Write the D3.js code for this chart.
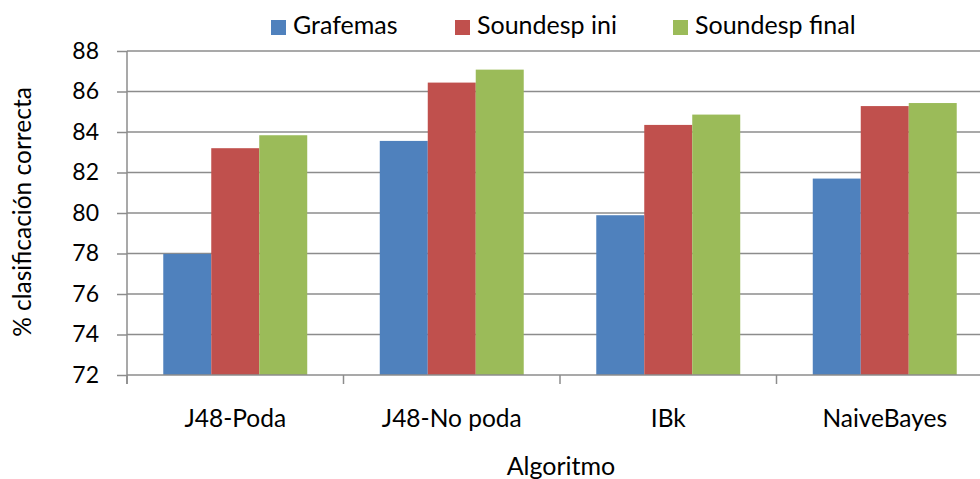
<!DOCTYPE html>
<html><head><meta charset="utf-8">
<script src="https://cdn.jsdelivr.net/npm/d3@7"></script>
<style>body{margin:0;background:#fff}svg{display:block}text{font-family:Lato,"Open Sans",sans-serif;fill:#000}</style>
</head><body><svg id="c" width="980" height="479"></svg>
<script>
const categories = ["J48-Poda", "J48-No poda", "IBk", "NaiveBayes"];
const seriesNames = ["Grafemas", "Soundesp ini", "Soundesp final"];
const grafemas = [77.98, 83.56, 79.89, 81.70];
const soundespIni = [83.20, 86.44, 84.35, 85.28];
const soundespFinal = [83.84, 87.08, 84.86, 85.43];
const yTicks = [72, 74, 76, 78, 80, 82, 84, 86, 88];
const colors = ["#4F81BD", "#C0504D", "#9BBB59"];
const seriesValues = [grafemas, soundespIni, soundespFinal];

(function () {
const svg = d3.select("#c");
const pL = 127, pR = 993, pT = 51, pB = 375;
const x = d3.scaleBand().domain(categories).range([pL, pR]).paddingInner(0.335).paddingOuter(0.1675);
const xs = d3.scaleBand().domain(seriesNames).range([0, x.bandwidth()]);
const y = d3.scaleLinear().domain([72, 88]).range([pB, pT]);

svg.append("g").selectAll("line").data(yTicks.slice(1)).join("line")
  .attr("x1", pL).attr("x2", 980).attr("y1", d => y(d)).attr("y2", d => y(d))
  .attr("stroke", "#8c8c8c").attr("stroke-width", 1.5);

const g = svg.append("g");
categories.forEach((c, i) => {
  seriesNames.forEach((s, j) => {
    g.append("rect").attr("x", x(c) + xs(s)).attr("y", y(seriesValues[j][i]))
      .attr("width", xs.bandwidth()).attr("height", y(72) - y(seriesValues[j][i]))
      .attr("fill", colors[j]);
  });
});

const ya = svg.append("g").attr("transform", `translate(${pL},0)`)
  .call(d3.axisLeft(y).tickValues(yTicks).tickSize(10).tickPadding(18).tickFormat(d3.format("d")));
ya.select(".domain").remove();
ya.selectAll(".tick line").attr("stroke", "#8c8c8c").attr("stroke-width", 1.5);
ya.selectAll(".tick text").attr("font-size", 23).attr("font-family", "Lato").attr("fill", "#000");
svg.append("line").attr("x1", pL).attr("x2", pL).attr("y1", pT).attr("y2", pB + 9)
  .attr("stroke", "#8c8c8c").attr("stroke-width", 1.5);

svg.append("line").attr("x1", pL).attr("x2", 980).attr("y1", pB).attr("y2", pB)
  .attr("stroke", "#8c8c8c").attr("stroke-width", 1.5);
const bounds = categories.map(c => x(c) - x.step() * x.paddingInner() / 2).concat([pR]);
svg.append("g").selectAll("line").data(bounds).join("line")
  .attr("x1", d => d).attr("x2", d => d).attr("y1", pB).attr("y2", pB + 9)
  .attr("stroke", "#8c8c8c").attr("stroke-width", 1.5);
svg.append("g").selectAll("text").data(categories).join("text")
  .attr("x", d => x(d) + x.bandwidth() / 2).attr("y", 427).attr("text-anchor", "middle")
  .attr("font-size", 24.5).text(d => d);

svg.append("text").attr("x", 561).attr("y", 475).attr("text-anchor", "middle").attr("font-size", 25).text("Algoritmo");
svg.append("text").attr("transform", `translate(31,212) rotate(-90)`).attr("text-anchor", "middle")
  .attr("font-size", 24.5).text("% clasificación correcta");

const legX = [271, 455, 673];
const leg = svg.append("g");
seriesNames.forEach((s, j) => {
  leg.append("rect").attr("x", legX[j]).attr("y", 20).attr("width", 15).attr("height", 15).attr("fill", colors[j]);
  leg.append("text").attr("x", legX[j] + 22).attr("y", 34).attr("font-size", 25).text(s);
});
})();
</script></body></html>
